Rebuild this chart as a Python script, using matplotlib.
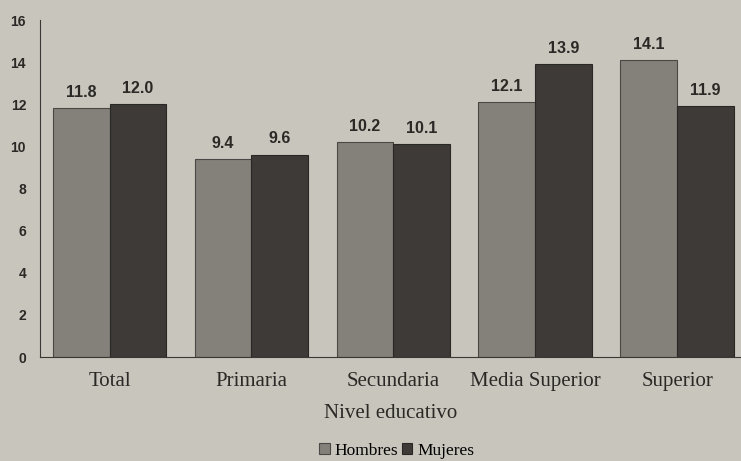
import matplotlib.pyplot as plt
import numpy as np

categories = ['Total', 'Primaria', 'Secundaria', 'Media Superior', 'Superior']
hombres = [11.8, 9.4, 10.2, 12.1, 14.1]
mujeres = [12.0, 9.6, 10.1, 13.9, 11.9]
yticks = [0, 2, 4, 6, 8, 10, 12, 14, 16]

bg = '#c8c5bc'
c_h = '#84817b'
c_m = '#3d3a37'
ink = '#2b2926'

fig = plt.figure(figsize=(7.41, 4.61), dpi=100, facecolor=bg)
ax = fig.add_axes([40 / 741, 104 / 461, 701 / 741, 337 / 461], facecolor=bg)

x = np.arange(len(categories))
w = 0.4
b1 = ax.bar(x - w / 2, hombres, w, color=c_h, edgecolor='#4a4744', linewidth=0.8, label='Hombres')
b2 = ax.bar(x + w / 2, mujeres, w, color=c_m, edgecolor='#2a2826', linewidth=0.8, label='Mujeres')

# value labels above bars
for bars, vals in ((b1, hombres), (b2, mujeres)):
    for r, v in zip(bars, vals):
        ax.text(r.get_x() + r.get_width() / 2, v + 0.4, f'{v:.1f}', ha='center', va='bottom',
                fontsize=11.5, fontweight='bold', family='Liberation Sans', color=ink)

ax.set_xlim(-0.49, 4.45)
ax.set_ylim(0, 16)
ax.set_yticks(yticks)
ax.set_yticklabels([str(t) for t in yticks], fontsize=10, fontweight='bold',
                   family='Liberation Sans', color=ink)
ax.set_xticks(x)
ax.set_xticklabels(categories, fontsize=15, family='Liberation Serif', color=ink)
ax.tick_params(axis='y', length=0, pad=10)
ax.tick_params(axis='x', length=0, pad=11)
ax.set_xlabel('Nivel educativo', fontsize=15, family='Liberation Serif', color=ink, labelpad=9)

for s in ('top', 'right'):
    ax.spines[s].set_visible(False)
ax.spines['left'].set_color('#3a3835')
ax.spines['bottom'].set_color('#3a3835')

fig.legend(handles=[b1, b2], loc='center', bbox_to_anchor=(397 / 741, 10 / 461), ncol=2,
           frameon=False, prop={'family': 'Liberation Serif', 'size': 12.5},
           handlelength=0.6, handleheight=0.6, handletextpad=0.3, columnspacing=0.2)

fig.savefig('out.png', dpi=100, facecolor=bg)
